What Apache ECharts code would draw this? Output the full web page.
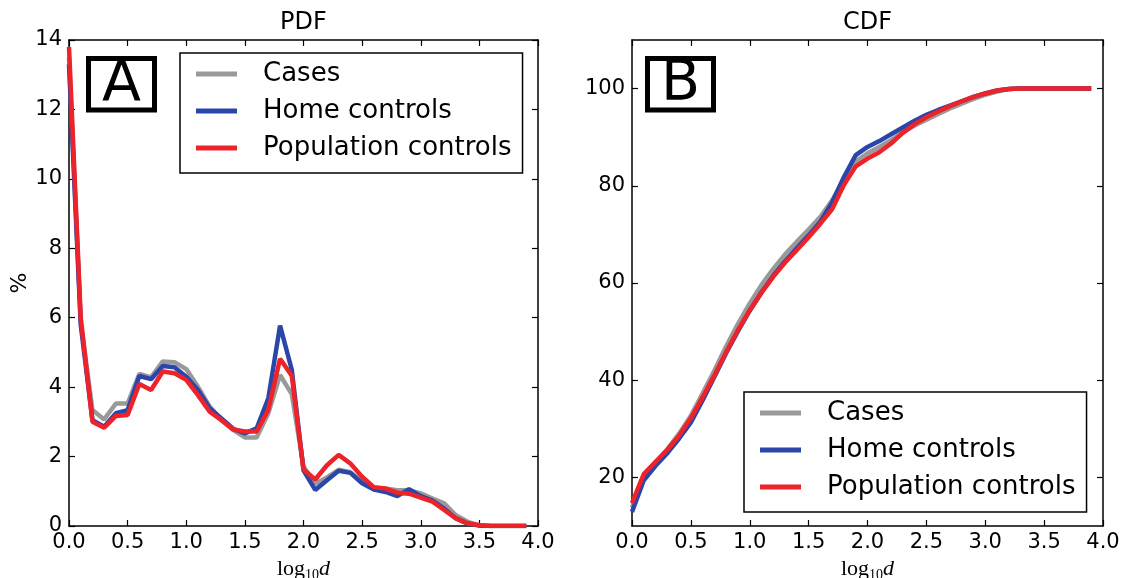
<!DOCTYPE html>
<html>
<head>
<meta charset="utf-8">
<script src="https://cdn.jsdelivr.net/npm/echarts/dist/echarts.min.js"></script>
<style>
html,body{margin:0;padding:0;background:#fff;}
#chart{width:1134px;height:578px;}
</style>
</head>
<body>
<div id="chart"></div>
<script>
// x positions (log10 d)
const xValues = [0.0,0.1,0.2,0.3,0.4,0.5,0.6,0.7,0.8,0.9,1.0,1.1,1.2,1.3,1.4,1.5,1.6,1.7,1.8,1.9,
                 2.0,2.1,2.2,2.3,2.4,2.5,2.6,2.7,2.8,2.9,3.0,3.1,3.2,3.3,3.4,3.5,3.6,3.7,3.8,3.9];
const seriesNames = ['Cases', 'Home controls', 'Population controls'];

// PDF (%)
const pdfCases = [13.5,5.9,3.34,3.07,3.53,3.53,4.38,4.28,4.74,4.72,4.52,4.01,3.44,3.05,2.77,2.55,2.55,3.25,4.35,3.8,
                  1.71,1.22,1.40,1.62,1.55,1.27,1.08,1.08,1.03,1.03,0.94,0.79,0.65,0.31,0.12,0.02,0,0,0,0];
const pdfHome  = [13.3,5.8,3.05,2.86,3.25,3.34,4.32,4.23,4.61,4.57,4.30,3.92,3.39,3.10,2.80,2.67,2.81,3.68,5.77,4.50,
                  1.60,1.04,1.32,1.59,1.53,1.23,1.05,0.98,0.86,1.06,0.86,0.73,0.50,0.22,0.07,0.01,0,0,0,0];
const pdfPop   = [13.8,6.0,3.00,2.83,3.17,3.20,4.09,3.92,4.45,4.40,4.21,3.77,3.29,3.05,2.78,2.72,2.72,3.35,4.82,4.33,
                  1.63,1.34,1.75,2.05,1.80,1.42,1.12,1.08,0.96,0.93,0.82,0.70,0.46,0.22,0.08,0.02,0,0,0,0];

// CDF (%)
const cdfCases = [13.8,20.0,23.0,25.8,29.0,32.7,37.3,42.0,47.0,51.6,55.8,59.6,62.9,65.9,68.5,71.0,73.6,77.0,81.3,85.0,
                  86.7,88.0,89.4,91.0,92.4,93.6,94.8,95.9,96.9,97.9,98.7,99.4,99.9,100,100,100,100,100,100,100];
const cdfHome  = [12.9,19.4,22.4,25.0,28.0,31.3,35.9,40.7,45.6,50.1,54.3,58.1,61.5,64.5,67.2,69.8,72.6,76.6,81.8,86.3,
                  88.0,89.2,90.6,92.0,93.4,94.6,95.6,96.5,97.4,98.3,99.0,99.6,99.9,100,100,100,100,100,100,100];
const cdfPop   = [14.7,20.7,23.2,25.7,28.6,32.2,36.5,41.0,45.8,50.3,54.4,58.0,61.3,64.2,66.8,69.4,72.2,75.2,80.2,84.0,
                  85.6,86.9,88.7,90.9,92.7,94.1,95.3,96.4,97.4,98.3,99.0,99.6,99.9,100,100,100,100,100,100,100];

// tick values
const xTickValues = [0.0,0.5,1.0,1.5,2.0,2.5,3.0,3.5,4.0];
const pdfYTicks = [0,2,4,6,8,10,12,14];
const cdfYTicks = [20,40,60,80,100];

const colors = ['#999999', '#2a46a8', '#ee2229'];
const FONT = 'DejaVu Sans';

function pairs(arr){ return xValues.map((x,i)=>[x, arr[i]]); }

const tickStyle = {show:true, inside:true, length:6, lineStyle:{color:'#000', width:1.2}};
const lineStyleAxis = {show:true, onZero:false, lineStyle:{color:'#000', width:1.5}};
const labelStyle = {color:'#000', fontFamily:FONT, fontSize:21};

const xName = '{l|log}{s|10}{d|d}';
const xNameStyle = {
  rich: {
    l: {fontFamily:'Liberation Serif', fontSize:22, lineHeight:26, color:'#000', verticalAlign:'middle'},
    s: {fontFamily:'Liberation Serif', fontSize:14, lineHeight:26, color:'#000', verticalAlign:'bottom'},
    d: {fontFamily:'Liberation Serif', fontSize:22, lineHeight:26, color:'#000', fontStyle:'italic', verticalAlign:'middle'}
  }
};

function mainX(gi){
  return {
    type:'value', gridIndex:gi, position:'bottom', min:0, max:4, interval:0.5,
    axisLine:lineStyleAxis, axisTick:tickStyle, splitLine:{show:false},
    axisLabel:Object.assign({margin:6, showMinLabel:true, showMaxLabel:true,
      formatter:(v)=>v.toFixed(1)}, labelStyle),
    name:xName, nameLocation:'middle', nameGap:27, nameTextStyle:xNameStyle
  };
}
function topX(gi){
  return {
    type:'value', gridIndex:gi, position:'top', min:0, max:4, interval:0.5,
    axisLine:lineStyleAxis, axisTick:tickStyle, axisLabel:{show:false}, splitLine:{show:false}
  };
}

const legendCommon = {
  orient:'vertical', icon:'rect', itemWidth:41, itemHeight:5, itemGap:11,
  padding:[8,11,12,16], backgroundColor:'#fff', borderColor:'#000', borderWidth:1.5, borderRadius:0,
  textStyle:{fontFamily:FONT, fontSize:26, color:'#000', lineHeight:26, padding:[0,0,0,21]},
  data:seriesNames, selectedMode:false, z:10
};

const option = {
  animation:false,
  backgroundColor:'#fff',
  color:colors,
  grid:[
    {left:69, top:40, width:469, height:486, outerBoundsMode:'none', containLabel:false},
    {left:632, top:40, width:471, height:486, outerBoundsMode:'none', containLabel:false}
  ],
  xAxis:[ mainX(0), topX(0), mainX(1), topX(1) ],
  yAxis:[
    {type:'value', gridIndex:0, position:'left', min:0, max:14, interval:2,
     axisLine:lineStyleAxis, axisTick:tickStyle, splitLine:{show:false},
     axisLabel:Object.assign({margin:7, showMinLabel:true, showMaxLabel:true}, labelStyle),
     name:'%', nameLocation:'middle', nameRotate:90, nameGap:38,
     nameTextStyle:{fontFamily:FONT, fontSize:22, color:'#000'}},
    {type:'value', gridIndex:0, position:'right', min:0, max:14, interval:2,
     axisLine:lineStyleAxis, axisTick:tickStyle, axisLabel:{show:false}, splitLine:{show:false}},
    {type:'value', gridIndex:1, position:'left', min:10, max:110, interval:10,
     axisLine:lineStyleAxis,
     axisTick:Object.assign({customValues:cdfYTicks}, tickStyle),
     splitLine:{show:false},
     axisLabel:Object.assign({margin:7, customValues:cdfYTicks}, labelStyle)},
    {type:'value', gridIndex:1, position:'right', min:10, max:110, interval:10,
     axisLine:lineStyleAxis,
     axisTick:Object.assign({customValues:cdfYTicks}, tickStyle),
     axisLabel:{show:false}, splitLine:{show:false}}
  ],
  legend:[
    Object.assign({left:180, top:53}, legendCommon),
    Object.assign({left:744, top:392}, legendCommon)
  ],
  graphic:[
    {type:'text', x:303.5, y:23, style:{text:'PDF', fontFamily:FONT, fontSize:24, fill:'#000', align:'center', verticalAlign:'middle'}},
    {type:'text', x:867.5, y:23, style:{text:'CDF', fontFamily:FONT, fontSize:24, fill:'#000', align:'center', verticalAlign:'middle'}},
    {type:'rect', shape:{x:88.5, y:58.5, width:66, height:51.5}, style:{fill:'#fff', stroke:'#000', lineWidth:5}, z:20},
    {type:'text', x:121.5, y:86, style:{text:'A', fontFamily:FONT, fontSize:57, fill:'#000', align:'center', verticalAlign:'middle'}, z:21},
    {type:'rect', shape:{x:647.5, y:58.5, width:66, height:51.5}, style:{fill:'#fff', stroke:'#000', lineWidth:5}, z:20},
    {type:'text', x:680.5, y:85, style:{text:'B', fontFamily:FONT, fontSize:57, fill:'#000', align:'center', verticalAlign:'middle'}, z:21}
  ],
  series:[
    {name:seriesNames[0], type:'line', xAxisIndex:0, yAxisIndex:0, data:pairs(pdfCases), showSymbol:false, symbol:'none', lineStyle:{width:4.5, color:colors[0]}, itemStyle:{color:colors[0]}, z:2},
    {name:seriesNames[1], type:'line', xAxisIndex:0, yAxisIndex:0, data:pairs(pdfHome), showSymbol:false, symbol:'none', lineStyle:{width:4.5, color:colors[1]}, itemStyle:{color:colors[1]}, z:3},
    {name:seriesNames[2], type:'line', xAxisIndex:0, yAxisIndex:0, data:pairs(pdfPop), showSymbol:false, symbol:'none', lineStyle:{width:4.5, color:colors[2]}, itemStyle:{color:colors[2]}, z:4},
    {name:seriesNames[0], type:'line', xAxisIndex:2, yAxisIndex:2, data:pairs(cdfCases), showSymbol:false, symbol:'none', lineStyle:{width:4.5, color:colors[0]}, itemStyle:{color:colors[0]}, z:2},
    {name:seriesNames[1], type:'line', xAxisIndex:2, yAxisIndex:2, data:pairs(cdfHome), showSymbol:false, symbol:'none', lineStyle:{width:4.5, color:colors[1]}, itemStyle:{color:colors[1]}, z:3},
    {name:seriesNames[2], type:'line', xAxisIndex:2, yAxisIndex:2, data:pairs(cdfPop), showSymbol:false, symbol:'none', lineStyle:{width:4.5, color:colors[2]}, itemStyle:{color:colors[2]}, z:4}
  ]
};

const chart = echarts.init(document.getElementById('chart'), null, {renderer:'canvas'});
chart.setOption(option);
</script>
</body>
</html>
